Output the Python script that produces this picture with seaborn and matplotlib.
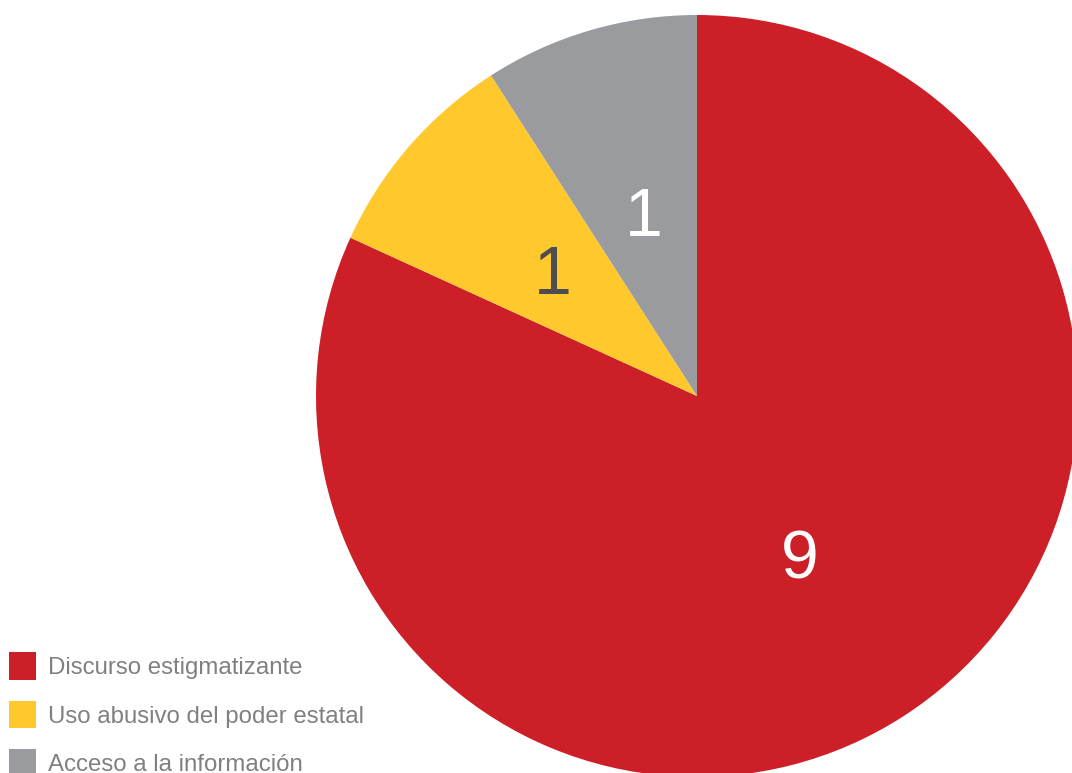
import matplotlib.pyplot as plt
import seaborn as sns
from matplotlib.patches import Patch

categories = ["Discurso estigmatizante", "Uso abusivo del poder estatal", "Acceso a la información"]
counts = [9, 1, 1]
colors = ["#CC1F27", "#FFC82C", "#999B9E"]
label_colors = ["white", "#4D4D4F", "white"]

sns.set_style("white")
plt.rcParams["font.family"] = ["Liberation Sans", "DejaVu Sans"]

fig = plt.figure(figsize=(10.72, 7.73), dpi=100)
W, H = 1072, 773
cx, cy, r = 697, 396, 381
ax = fig.add_axes([(cx - r) / W, (H - cy - r) / H, 2 * r / W, 2 * r / H])

wedges, _, autotexts = ax.pie(
    counts,
    colors=sns.color_palette(colors),
    startangle=90,
    counterclock=False,
    radius=1,
    autopct=lambda p: f"{round(p * sum(counts) / 100):d}",
    pctdistance=0.5,
    wedgeprops={"linewidth": 0},
)
for t, c in zip(autotexts, label_colors):
    t.set_color(c)
    t.set_fontsize(49)
    x, y = t.get_position()
    t.set_position((x, y - 0.012))
ax.set_xlim(-1, 1)
ax.set_ylim(-1, 1)
ax.set_aspect("equal")
ax.axis("off")

handles = [Patch(facecolor=c, edgecolor="none") for c in colors]
fig.legend(
    handles,
    categories,
    loc="upper left",
    bbox_to_anchor=(9 / W, 1 - 652 / H),
    frameon=False,
    fontsize=17.3,
    handlelength=1.12,
    handleheight=1.4,
    handletextpad=0.5,
    labelspacing=0.87,
    borderpad=0,
    borderaxespad=0,
    labelcolor="#808080",
)

fig.savefig("out.png", dpi=100)
